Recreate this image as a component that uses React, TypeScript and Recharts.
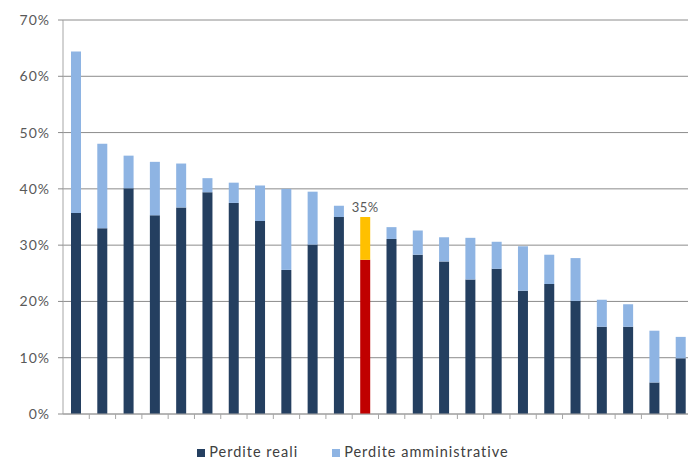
import { BarChart, Bar, XAxis, YAxis, CartesianGrid, Legend, Cell } from 'recharts';

const categories = Array.from({ length: 24 }, (_, i) => `${i + 1}`);
const realLosses = [35.7, 33.0, 40.1, 35.3, 36.7, 39.4, 37.5, 34.3, 25.6, 30.1, 35.0, 27.4, 31.1, 28.3, 27.1, 23.9, 25.8, 21.9, 23.1, 20.1, 15.5, 15.5, 5.6, 9.9];
const adminLosses = [28.7, 15.0, 5.8, 9.5, 7.8, 2.5, 3.6, 6.3, 14.4, 9.4, 2.0, 7.6, 2.1, 4.3, 4.3, 7.4, 4.8, 7.9, 5.2, 7.6, 4.8, 4.0, 9.2, 3.8];
const yTicks = [0, 10, 20, 30, 40, 50, 60, 70];
const highlightIndex = 11;

const DARK = '#243f60';
const LIGHT = '#8eb4e3';
const HL_DARK = '#c00000';
const HL_LIGHT = '#ffc000';
const FONT = 'Lato, "Open Sans", sans-serif';

const data = categories.map((c, i) => ({
  name: c,
  reali: realLosses[i],
  amministrative: adminLosses[i],
  total: realLosses[i] + adminLosses[i],
}));

const CHART_W = 694;
const Y_W = 63;
const BAND = (CHART_W - Y_W) / categories.length;

const BoundaryTick = (props: any) => {
  const { x, y } = props;
  return <line x1={x + BAND / 2} x2={x + BAND / 2} y1={y} y2={y + 5} stroke="#a6a6a6" strokeWidth={1} />;
};

const TotalLabel = (props: any) => {
  const { x, y, width, index } = props;
  if (index !== highlightIndex) return null;
  return (
    <text x={x + width / 2} y={y - 5} textAnchor="middle" fill="#595959" fontSize={13} fontFamily={FONT} letterSpacing={0.5}>
      {`${Math.round(data[index].total)}%`}
    </text>
  );
};

// keep "Perdite reali" first in the legend
const legendOrder = (item: any) => (item.dataKey === 'reali' ? 0 : 1);

export default function App() {
  return (
    <div style={{ position: 'fixed', left: 0, top: 0, width: 688, height: 459, overflow: 'hidden', background: '#fff' }}>
      <BarChart
        width={CHART_W}
        height={459}
        data={data}
        barSize={10}
        margin={{ top: 20, right: 0, left: 0, bottom: 14 }}
      >
        <CartesianGrid vertical={false} stroke="#8c8c8c" />
        <XAxis
          dataKey="name"
          axisLine={{ stroke: '#a6a6a6' }}
          tickLine={false}
          tickSize={0}
          tickMargin={0}
          height={10}
          tick={<BoundaryTick />}
          interval={0}
        />
        <YAxis
          width={Y_W}
          domain={[0, 70]}
          ticks={yTicks}
          tickFormatter={(v) => `${v}%`}
          axisLine={{ stroke: '#a6a6a6' }}
          tickLine={{ stroke: '#8c8c8c' }}
          tickSize={5}
          tickMargin={8}
          tick={{ fill: '#595959', fontSize: 14, fontFamily: FONT, letterSpacing: 1 }}
        />
        <Legend
          verticalAlign="bottom"
          iconType="square"
          iconSize={8}
          itemSorter={legendOrder}
          wrapperStyle={{ fontFamily: FONT, fontSize: 14.5, letterSpacing: 1, color: '#404040', paddingTop: 4, width: 688, left: 26, top: 439, bottom: 'auto' }}
          formatter={(value) => <span style={{ color: '#404040', marginRight: 24 }}>{value}</span>}
        />
        <Bar dataKey="reali" name="Perdite reali" stackId="a" fill={DARK} isAnimationActive={false}>
          {data.map((_, i) => (
            <Cell key={i} fill={i === highlightIndex ? HL_DARK : DARK} />
          ))}
        </Bar>
        <Bar dataKey="amministrative" name="Perdite amministrative" stackId="a" fill={LIGHT} isAnimationActive={false} label={<TotalLabel />}>
          {data.map((_, i) => (
            <Cell key={i} fill={i === highlightIndex ? HL_LIGHT : LIGHT} />
          ))}
        </Bar>
      </BarChart>
    </div>
  );
}
